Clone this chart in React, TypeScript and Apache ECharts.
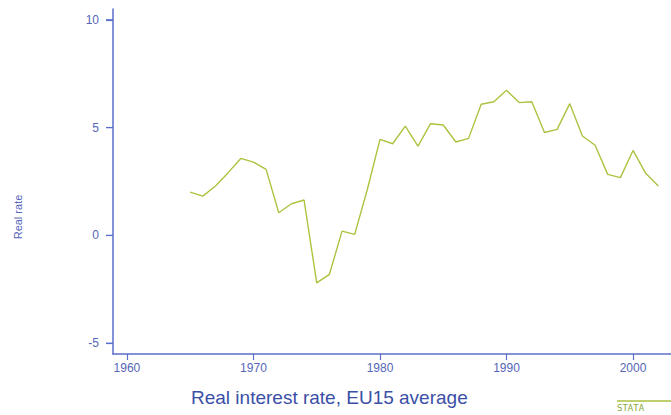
import React, { useEffect, useRef } from "react";
import * as echarts from "echarts";

const years = [1965,1966,1967,1968,1969,1970,1971,1972,1973,1974,1975,1976,1977,1978,1979,1980,1981,1982,1983,1984,1985,1986,1987,1988,1989,1990,1991,1992,1993,1994,1995,1996,1997,1998,1999,2000,2001,2002];
const realRate = [2.01,1.82,2.29,2.91,3.57,3.40,3.06,1.05,1.47,1.64,-2.2,-1.81,0.2,0.05,2.13,4.45,4.25,5.07,4.14,5.18,5.12,4.33,4.5,6.08,6.2,6.73,6.16,6.2,4.77,4.92,6.11,4.61,4.18,2.83,2.68,3.94,2.88,2.29];
const xTicks = [1960, 1970, 1980, 1990, 2000];
const yTicks = [-5, 0, 5, 10];
const title = "Real interest rate, EU15 average";
const yTitle = "Real rate";

const axisBlue = "#5b6ec9";
const labelBlue = "#5566b8";
const xMin = 1958.9;

export default function App() {
  const ref = useRef<HTMLDivElement>(null);
  useEffect(() => {
    const chart = echarts.init(ref.current!, null, { renderer: "svg" });
    const baseGraphic: any[] = [
      {
        type: "text",
        left: 191,
        top: 388,
        style: {
          text: title,
          fill: "#3b4fa6",
          fontSize: 19,
          fontFamily: "Liberation Sans, Arial, sans-serif",
        },
      },
      {
        type: "text",
        x: 18,
        y: 217,
        rotation: Math.PI / 2,
        style: {
          text: yTitle,
          fill: labelBlue,
          fontSize: 11,
          fontFamily: "Liberation Sans, Arial, sans-serif",
          align: "center",
          verticalAlign: "middle",
        },
      },
      {
        type: "line",
        shape: { x1: 617, y1: 401, x2: 671, y2: 401 },
        style: { stroke: "#a9c23e", lineWidth: 1.5 },
      },
      {
        type: "text",
        x: 617,
        y: 403,
        style: {
          text: "STATA",
          fill: "#8aa83a",
          fontSize: 9,
          fontFamily: "DejaVu Sans Mono, monospace",
        },
      },
    ];
    chart.setOption({
      animation: false,
      backgroundColor: "#ffffff",
      grid: { left: 113, right: 0, top: 9, bottom: 61 },
      xAxis: {
        type: "value",
        min: xMin,
        max: 2003,
        splitLine: { show: false },
        axisLine: { show: true, onZero: false, lineStyle: { color: axisBlue, width: 1.5 } },
        axisTick: { show: true, customValues: xTicks, length: 6, lineStyle: { color: axisBlue, width: 1.2 } },
        axisLabel: {
          customValues: xTicks,
          color: labelBlue,
          fontSize: 12,
          fontFamily: "Liberation Sans, Arial, sans-serif",
          margin: 8,
          formatter: (v: number) => String(v),
        },
      },
      yAxis: {
        type: "value",
        min: -5.5,
        max: 10.5,
        splitLine: { show: false },
        axisLine: { show: true, onZero: false, lineStyle: { color: axisBlue, width: 1.5 } },
        axisTick: { show: true, customValues: yTicks, length: 7, lineStyle: { color: axisBlue, width: 1.2 } },
        axisLabel: {
          customValues: yTicks,
          color: labelBlue,
          fontSize: 12,
          fontFamily: "Liberation Sans, Arial, sans-serif",
          margin: 14,
        },
      },
      series: [
        {
          type: "line",
          data: years.map((y, i) => [y, realRate[i]]),
          showSymbol: false,
          lineStyle: { color: "#abc440", width: 1.4 },
        },
      ],
      graphic: baseGraphic,
    });
    const tickLines = yTicks.map((v) => {
      const p = chart.convertToPixel({ gridIndex: 0 }, [xMin, v]) as number[];
      return {
        type: "line",
        shape: { x1: p[0] - 7, y1: p[1], x2: p[0], y2: p[1] },
        style: { stroke: axisBlue, lineWidth: 1.2 },
      };
    });
    chart.setOption({ graphic: [...baseGraphic, ...tickLines] });
    return () => chart.dispose();
  }, []);
  return <div ref={ref} style={{ width: 671, height: 415, position: "absolute", left: 0, top: 0 }} />;
}
